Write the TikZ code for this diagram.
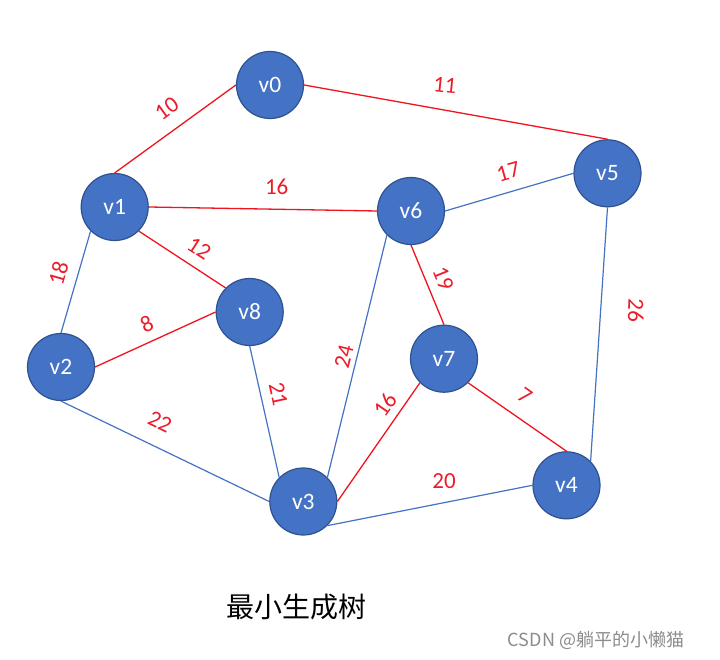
\documentclass[tikz,border=0pt]{standalone}
\usepackage{fontspec}
\setmainfont{Carlito}
\newfontfamily\cjk{Noto Sans CJK SC}
\definecolor{nodefill}{HTML}{4472C4}
\definecolor{nodeedge}{HTML}{2F528F}
\definecolor{redline}{HTML}{F0141E}
\definecolor{blueline}{HTML}{4472C4}
\definecolor{lblred}{HTML}{EC1C2A}
\begin{document}
\begin{tikzpicture}[x=1pt,y=-1pt,
  vtx/.style={circle,draw=nodeedge,line width=1.2pt,fill=nodefill,minimum size=67pt,inner sep=0pt,
    text=white,font=\fontsize{23.5}{27}\selectfont},
  redge/.style={draw=redline,line width=1.3pt},
  bedge/.style={draw=blueline,line width=1.2pt},
  lbl/.style={text=lblred,inner sep=0pt,font=\fontsize{23}{27}\selectfont}]
\useasboundingbox[fill=white] (0,0) rectangle (720,660);
\node[vtx] (v0) at (270,85) {v0};
\node[vtx] (v1) at (114.7,207) {v1};
\node[vtx] (v2) at (61,367) {v2};
\node[vtx] (v8) at (249.7,312) {v8};
\node[vtx] (v6) at (411,211) {v6};
\node[vtx] (v5) at (607.5,173.3) {v5};
\node[vtx] (v7) at (444,358.7) {v7};
\node[vtx] (v3) at (303.3,501.5) {v3};
\node[vtx] (v4) at (566.5,485.3) {v4};
\draw[redge] (v1.north) -- (v0.west) node[lbl,rotate=36] at (166.7,109) {10};
\draw[redge] (v0.east) -- (v5.north) node[lbl,rotate=-6] at (445,85) {11};
\draw[redge] (v1.east) -- (v6.west) node[lbl] at (276.7,186.7) {16};
\draw[redge] (v1.south east) -- (v8.north west) node[lbl,rotate=-33] at (199.3,248.3) {12};
\draw[bedge] (v2.north) -- (v1.south west) node[lbl,rotate=74] at (58.3,273.3) {18};
\draw[redge] (v2.east) -- (v8.west) node[lbl,rotate=24] at (146.7,324) {8};
\draw[bedge] (v2.south) -- (v3.west) node[lbl,rotate=-26] at (160,421.7) {22};
\draw[bedge] (v8.south) -- (v3.north west) node[lbl,rotate=-78] at (278.3,394) {21};
\draw[bedge] (v3.north east) -- (v6.south west) node[lbl,rotate=76] at (344,356.7) {24};
\draw[redge] (v3.east) -- (v7.south west) node[lbl,rotate=55] at (385,405) {16};
\draw[redge] (v6.south) -- (v7.north) node[lbl,rotate=-68] at (443.3,278.3) {19};
\draw[redge] (v7.south east) -- (v4.north) node[lbl,rotate=-35] at (525,395.7) {7};
\draw[bedge] (v3.south east) -- (v4.west) node[lbl] at (444,481) {20};
\draw[bedge] (v6.east) -- (v5.west) node[lbl,rotate=16] at (508.3,171.7) {17};
\draw[bedge] (v5.south) -- (v4.north east) node[lbl,rotate=-92] at (636,310.7) {26};
\node[font=\cjk\fontsize{28}{32}\selectfont,text=black] (title) at (296,607) {最小生成树};
\node[font=\cjk\fontsize{18}{22}\selectfont,text=black!45] (mark) at (596,640) {CSDN @躺平的小懒猫};
\end{tikzpicture}
\end{document}
